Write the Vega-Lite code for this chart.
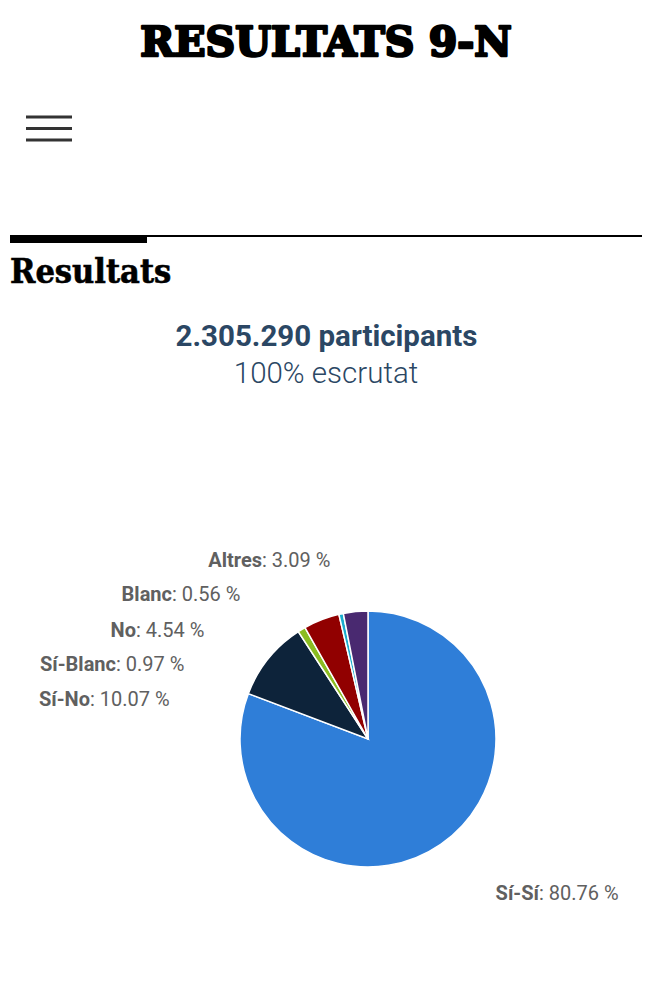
{
  "$schema": "https://vega.github.io/schema/vega-lite/v6.json",
  "width": 655,
  "height": 1000,
  "padding": 0,
  "autosize": {"type": "fit", "contains": "padding"},
  "background": "#ffffff",
  "config": {"view": {"stroke": null}},
  "data": {
    "values": [
      {"ordre": 1, "name": "Sí-Sí", "value": 80.76},
      {"ordre": 2, "name": "Sí-No", "value": 10.07},
      {"ordre": 3, "name": "Sí-Blanc", "value": 0.97},
      {"ordre": 4, "name": "No", "value": 4.54},
      {"ordre": 5, "name": "Blanc", "value": 0.56},
      {"ordre": 6, "name": "Altres", "value": 3.09}
    ]
  },
  "layer": [
    {
      "data": {"values": [{}]},
      "mark": {"type": "text", "text": "RESULTATS 9-N", "x": 326, "y": 56, "align": "center", "baseline": "alphabetic", "font": "DejaVu Serif", "fontWeight": "bold", "fontSize": 41, "color": "#000000", "stroke": "#000000", "strokeWidth": 2.6, "strokeJoin": "round"},
      "encoding": {}
    },
    {
      "data": {"values": [{}]},
      "mark": {"type": "rect", "x": 26, "x2": 72, "y": 115.5, "y2": 118.5, "color": "#333333"},
      "encoding": {}
    },
    {
      "data": {"values": [{}]},
      "mark": {"type": "rect", "x": 26, "x2": 72, "y": 127, "y2": 130, "color": "#333333"},
      "encoding": {}
    },
    {
      "data": {"values": [{}]},
      "mark": {"type": "rect", "x": 26, "x2": 72, "y": 138.5, "y2": 141.5, "color": "#333333"},
      "encoding": {}
    },
    {
      "data": {"values": [{}]},
      "mark": {"type": "rect", "x": 10, "x2": 642, "y": 235, "y2": 237, "color": "#000000"},
      "encoding": {}
    },
    {
      "data": {"values": [{}]},
      "mark": {"type": "rect", "x": 10, "x2": 147, "y": 235, "y2": 243, "color": "#000000"},
      "encoding": {}
    },
    {
      "data": {"values": [{}]},
      "mark": {"type": "text", "text": "Resultats", "x": 10, "y": 283, "align": "left", "baseline": "alphabetic", "font": "DejaVu Serif Condensed", "fontWeight": "bold", "fontSize": 34, "color": "#000000", "stroke": "#000000", "strokeWidth": 0.6},
      "encoding": {}
    },
    {
      "data": {"values": [{}]},
      "mark": {"type": "text", "text": "2.305.290 participants", "x": 326.5, "y": 337, "align": "center", "baseline": "middle", "font": "Roboto", "fontWeight": "bold", "fontSize": 29.5, "color": "#2b4764"},
      "encoding": {}
    },
    {
      "data": {"values": [{}]},
      "mark": {"type": "text", "text": "100% escrutat", "x": 326, "y": 374, "align": "center", "baseline": "middle", "font": "Roboto", "fontWeight": 300, "fontSize": 29.5, "color": "#2b4764"},
      "encoding": {}
    },
    {
      "mark": {"type": "arc", "outerRadius": 128, "x": 368, "y": 739, "stroke": "#ffffff", "strokeWidth": 1.5},
      "encoding": {
        "theta": {"field": "value", "type": "quantitative", "stack": true},
        "order": {"field": "ordre", "type": "quantitative"},
        "color": {
          "field": "name",
          "type": "nominal",
          "scale": {
            "domain": ["Sí-Sí", "Sí-No", "Sí-Blanc", "No", "Blanc", "Altres"],
            "range": ["#2f7ed8", "#0d233a", "#8bbc21", "#910000", "#1aadce", "#492970"]
          },
          "legend": null
        }
      }
    },
    {
      "mark": {"type": "text", "align": "right", "baseline": "middle", "font": "Roboto", "fontWeight": "bold", "fontSize": 20, "color": "#606060"},
      "encoding": {
        "x": {"field": "ordre", "type": "quantitative", "axis": null, "scale": {"domain": [1, 2, 3, 4, 5, 6], "range": [539, 90, 116, 136, 172, 262], "zero": false, "nice": false}},
        "y": {"field": "ordre", "type": "quantitative", "axis": null, "scale": {"domain": [1, 2, 3, 4, 5, 6], "range": [893.5, 699.5, 664.5, 630.5, 594.5, 560.5], "zero": false, "nice": false}},
        "text": {"field": "name", "type": "nominal"}
      }
    },
    {
      "transform": [{"calculate": "': ' + format(datum.value, '.2f') + ' %'", "as": "etiqueta"}],
      "mark": {"type": "text", "align": "left", "baseline": "middle", "font": "Roboto", "fontWeight": "normal", "fontSize": 20, "color": "#606060"},
      "encoding": {
        "x": {"field": "ordre", "type": "quantitative", "axis": null},
        "y": {"field": "ordre", "type": "quantitative", "axis": null},
        "text": {"field": "etiqueta", "type": "nominal"}
      }
    }
  ]
}
